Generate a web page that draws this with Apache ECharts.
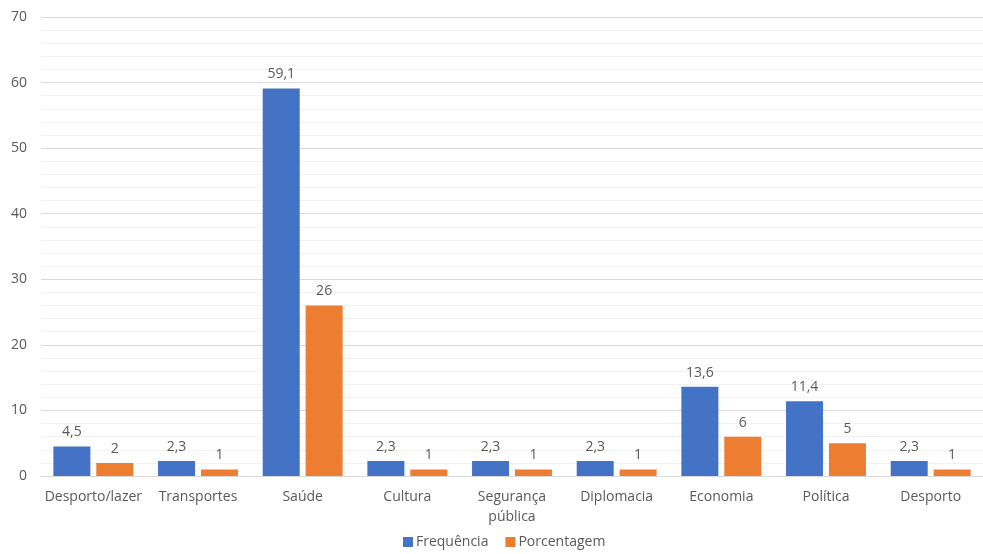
<!DOCTYPE html>
<html>
<head>
<meta charset="utf-8">
<script src="https://cdn.jsdelivr.net/npm/echarts@6/dist/echarts.min.js"></script>
<style>
  html, body { margin: 0; padding: 0; background: #fff; }
  #chart { width: 983px; height: 554px; }
</style>
</head>
<body>
<div id="chart"></div>
<script>
const categories = ['Desporto/lazer', 'Transportes', 'Saúde', 'Cultura', 'Segurança\npública', 'Diplomacia', 'Economia', 'Política', 'Desporto'];
const frequencia = [4.5, 2.3, 59.1, 2.3, 2.3, 2.3, 13.6, 11.4, 2.3];
const porcentagem = [2, 1, 26, 1, 1, 1, 6, 5, 1];
const seriesNames = ['Frequência', 'Porcentagem'];

const textColor = '#595959';
const fontFamily = '"Open Sans", "Noto Sans", sans-serif';
const fmt = p => String(p.value).replace('.', ',');

const chart = echarts.init(document.getElementById('chart'));
chart.setOption({
  animation: false,
  textStyle: { fontFamily: fontFamily, color: textColor },
  grid: { left: 41, width: 948, top: 17, bottom: 78 },
  legend: {
    top: 535,
    left: 403,
    padding: 0,
    itemWidth: 10,
    itemHeight: 10,
    itemGap: 17,
    icon: 'rect',
    textStyle: { fontSize: 14, color: textColor, padding: [0, 0, 0, -2] },
    data: seriesNames
  },
  xAxis: {
    type: 'category',
    data: categories,
    axisLine: { lineStyle: { color: '#d9d9d9' } },
    axisTick: { show: false },
    axisLabel: { fontSize: 14, color: textColor, margin: 11, lineHeight: 20, interval: 0 }
  },
  yAxis: {
    type: 'value',
    min: 0,
    max: 70,
    interval: 10,
    axisLine: { show: false },
    axisTick: { show: false },
    axisLabel: { fontSize: 14, color: textColor, margin: 14 },
    splitLine: { lineStyle: { color: '#d9d9d9' } },
    minorTick: { show: false, splitNumber: 5 },
    minorSplitLine: { show: true, lineStyle: { color: '#f2f2f2' } }
  },
  series: [
    {
      name: seriesNames[0],
      type: 'bar',
      data: frequencia,
      barWidth: 37,
      barGap: '16%',
      itemStyle: { color: '#4472c4' },
      label: { show: true, position: 'top', distance: 7, fontSize: 14, color: textColor, formatter: fmt }
    },
    {
      name: seriesNames[1],
      type: 'bar',
      data: porcentagem,
      barWidth: 37,
      barGap: '16%',
      itemStyle: { color: '#ed7d31' },
      label: { show: true, position: 'top', distance: 7, fontSize: 14, color: textColor, formatter: fmt }
    }
  ]
});
</script>
</body>
</html>
